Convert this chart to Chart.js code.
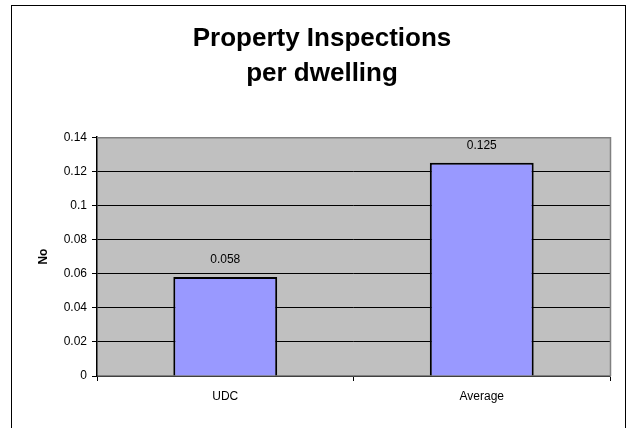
<!DOCTYPE html>
<html>
<head>
<meta charset="utf-8">
<script src="https://cdn.jsdelivr.net/npm/chart.js@4"></script>
<style>
  html, body { margin: 0; padding: 0; background: #fff; }
  #wrap { width: 634px; height: 428px; }
</style>
</head>
<body>
<div id="wrap"><canvas id="grafico" width="634" height="428"></canvas></div>
<script>
const categorias = ["UDC", "Average"];
const valores = [0.058, 0.125];
const tituloLinhas = ["Property Inspections", "per dwelling"];
const tituloEixoY = "No";

const fonte = "'Liberation Sans', Arial, sans-serif";

// moldura externa + fundo cinza da área de plotagem
const fundoPlugin = {
    id: "fundo",
    beforeDraw(chart) {
        const { ctx, chartArea: a } = chart;
        ctx.save();
        ctx.fillStyle = "#fff";
        ctx.fillRect(0, 0, chart.width, chart.height);
        ctx.strokeStyle = "#000";
        ctx.lineWidth = 1;
        ctx.strokeRect(11.5, 5.5, 614, 440);
        ctx.fillStyle = "#C0C0C0";
        ctx.fillRect(a.left, a.top, a.right - a.left, a.bottom - a.top);
        ctx.restore();
    },
    afterDatasetsDraw(chart) {
        const { ctx, chartArea: a } = chart;
        ctx.save();
        ctx.strokeStyle = "#808080";
        ctx.lineWidth = 1.5;
        ctx.beginPath();
        ctx.moveTo(a.left, a.top + 0.5);
        ctx.lineTo(a.right + 0.5, a.top + 0.5);
        ctx.lineTo(a.right + 0.5, a.bottom);
        ctx.stroke();
        // rótulos de valor
        ctx.fillStyle = "#000";
        ctx.font = "12px " + fonte;
        ctx.textAlign = "center";
        ctx.textBaseline = "middle";
        chart.getDatasetMeta(0).data.forEach((bar, i) => {
            ctx.fillText(String(valores[i]), bar.x, bar.y - 17);
        });
        ctx.restore();
    }
};

new Chart(document.getElementById("grafico").getContext("2d"), {
    type: "bar",
    data: {
        labels: categorias,
        datasets: [{
            data: valores,
            backgroundColor: "#9999FF",
            borderColor: "#000",
            borderWidth: 2,
            barPercentage: 0.81,
            categoryPercentage: 0.5
        }]
    },
    options: {
        responsive: false,
        animation: false,
        devicePixelRatio: 1,
        layout: { padding: { left: 34, right: 24, top: 0, bottom: 0 } },
        plugins: {
            legend: { display: false },
            tooltip: { enabled: false },
            title: {
                display: true,
                text: tituloLinhas,
                color: "#000",
                font: { family: fonte, size: 26, weight: "bold", lineHeight: 1.35 },
                padding: { top: 21, bottom: 46 }
            }
        },
        scales: {
            x: {
                afterFit(scale) { scale.height = 52; },
                grid: { offset: true, drawOnChartArea: false, drawTicks: true, tickLength: 5, color: "#000" },
                border: { color: "#808080", width: 1.5 },
                ticks: { color: "#000", font: { family: fonte, size: 12 }, padding: 8 }
            },
            y: {
                min: 0,
                max: 0.14,
                afterFit(scale) { scale.width = 63; },
                ticks: {
                    stepSize: 0.02,
                    color: "#000",
                    font: { family: fonte, size: 12 },
                    padding: 5,
                    callback: v => String(+v.toFixed(2))
                },
                grid: { color: "#000", lineWidth: 1, tickLength: 5 },
                border: { color: "#000", width: 1.5 },
                title: {
                    display: true,
                    text: tituloEixoY,
                    color: "#000",
                    font: { family: fonte, size: 12, weight: "bold" },
                    padding: { top: 2, bottom: 0 }
                }
            }
        }
    },
    plugins: [fundoPlugin]
});
</script>
</body>
</html>
